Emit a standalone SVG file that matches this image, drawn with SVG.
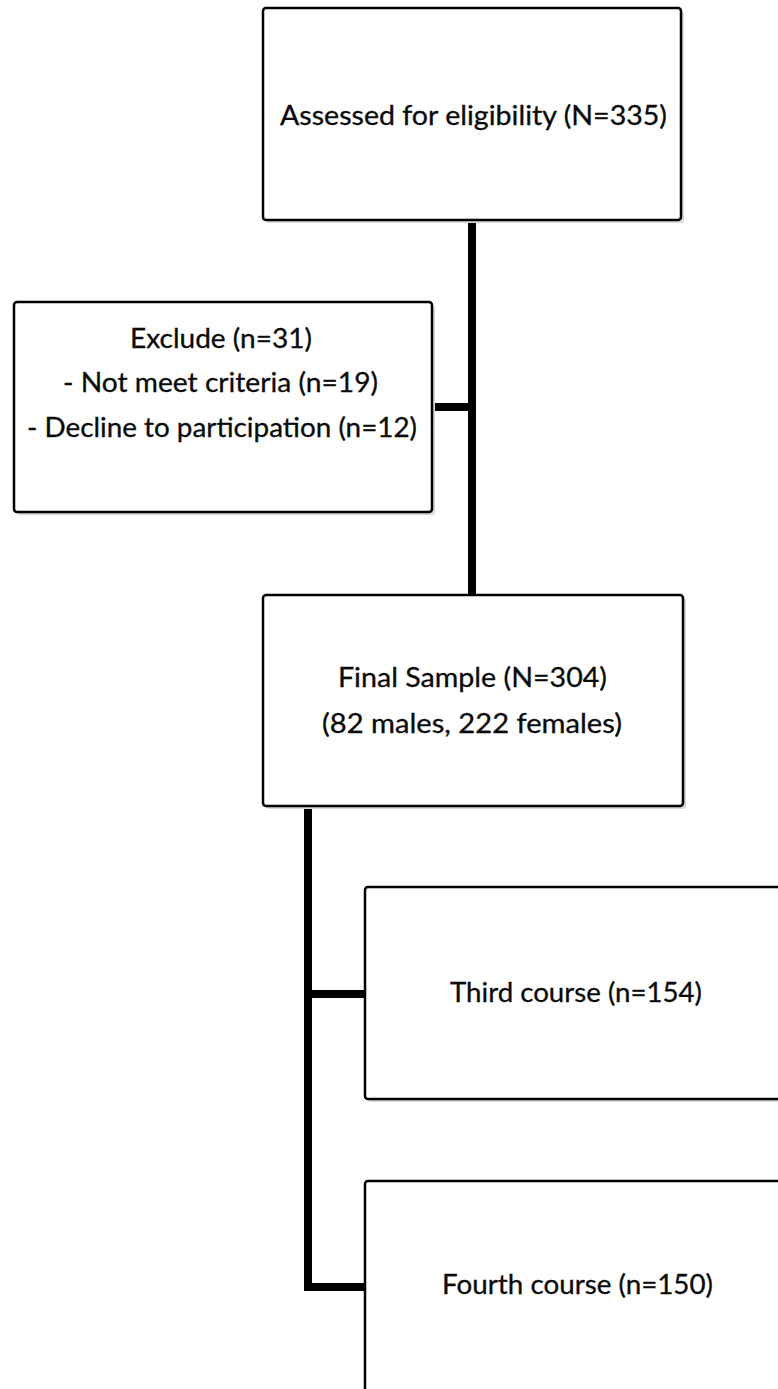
<svg xmlns="http://www.w3.org/2000/svg" width="778" height="1389" viewBox="0 0 778 1389">
<style>
.box{fill:#fff;stroke:#000;stroke-width:2.5}
.shadow{fill:#d9d9d9}
.t{font-family:Lato,"Liberation Sans",sans-serif;font-size:26px;fill:#0a0a0a;stroke:#0a0a0a;stroke-width:0.3;text-anchor:start}
.conn{fill:none;stroke:#000;stroke-width:8;stroke-linejoin:miter}
</style>
<rect width="778" height="1389" fill="#fff"/>
<g id="connectors">
<line class="conn" x1="472" y1="220" x2="472" y2="596"/>
<line class="conn" x1="432" y1="407" x2="472" y2="407"/>
<polyline class="conn" points="308,806 308,1287 366,1287"/>
<line class="conn" x1="308" y1="994" x2="366" y2="994"/>
</g>
<g id="node-assessed">
<rect class="shadow" x="266" y="11" width="418" height="212" rx="3"/>
<rect class="box" x="263" y="8" width="418" height="212" rx="3"/>
<text class="t" x="280" y="125" textLength="387" lengthAdjust="spacingAndGlyphs">Assessed for eligibility (N=335)</text>
</g>
<g id="node-exclude">
<rect class="shadow" x="17" y="305" width="418" height="210" rx="3"/>
<rect class="box" x="14" y="302" width="418" height="210" rx="3"/>
<text class="t" x="130" y="348" textLength="182" lengthAdjust="spacingAndGlyphs">Exclude (n=31)</text>
<text class="t" x="63" y="392" textLength="315" lengthAdjust="spacingAndGlyphs">- Not meet criteria (n=19)</text>
<text class="t" x="27" y="437" textLength="390" lengthAdjust="spacingAndGlyphs">- Decline to participation (n=12)</text>
</g>
<g id="node-final">
<rect class="shadow" x="266" y="598" width="420" height="211" rx="3"/>
<rect class="box" x="263" y="595" width="420" height="211" rx="3"/>
<text class="t" x="338" y="687" textLength="269" lengthAdjust="spacingAndGlyphs">Final Sample (N=304)</text>
<text class="t" x="322" y="733" textLength="300" lengthAdjust="spacingAndGlyphs">(82 males, 222 females)</text>
</g>
<g id="node-third">
<rect class="shadow" x="368" y="890" width="420" height="212" rx="3"/>
<rect class="box" x="365" y="887" width="420" height="212" rx="3"/>
<text class="t" x="450" y="1002" textLength="252" lengthAdjust="spacingAndGlyphs">Third course (n=154)</text>
</g>
<g id="node-fourth">
<rect class="box" x="365" y="1181" width="420" height="230" rx="3"/>
<text class="t" x="442" y="1294" textLength="271" lengthAdjust="spacingAndGlyphs">Fourth course (n=150)</text>
</g>
</svg>
